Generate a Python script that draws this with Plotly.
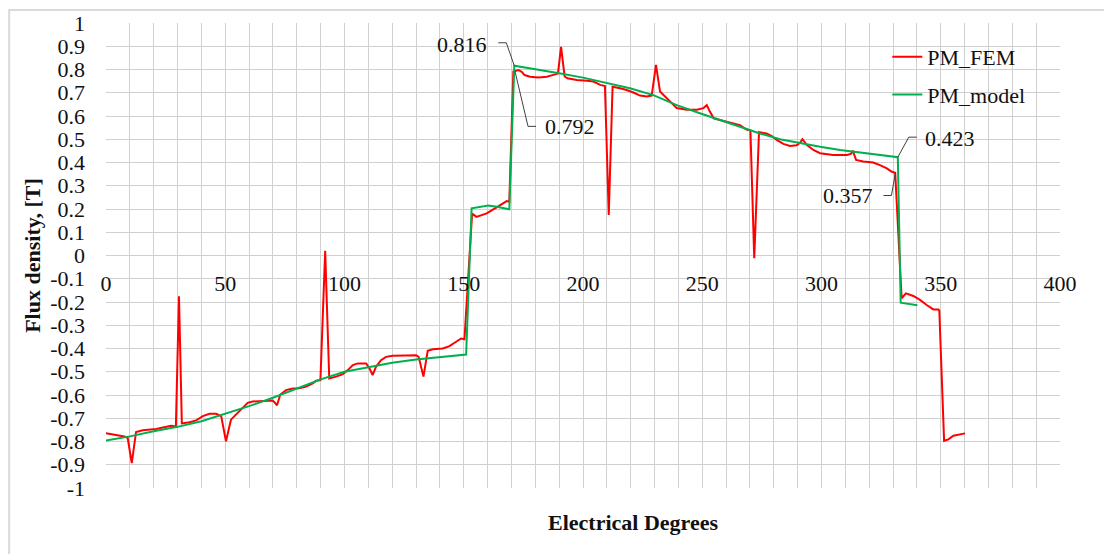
import plotly.graph_objects as go

# ---------------- data ----------------
fem_x = [0, 7.7, 9.1, 10.8, 12.6, 15.4, 21, 25.2, 27.3, 29.3, 30.6, 31.8, 35, 37.8, 40.6, 43.4, 46.2, 48.3,
         50.3, 52.4, 54.5, 57.3, 59.4, 61.5, 64.3, 67.1, 69.9, 70.6, 71.7, 73.1, 75.5, 78.3, 81.1, 83.9,
         86.7, 88.1, 89.9, 91.9, 93.6, 96.5, 99.3, 101.4, 103.5, 105.6, 109.1, 110.5, 111.8, 113.2, 115.3,
         117.4, 120.2, 125.8, 130.0, 131.1, 133.1, 134.9, 137.0, 141.2, 144.0, 146.8, 148.9, 150.3,
         153.5, 155.3, 159.6, 163.8, 166.6, 168.0, 169.1,
         170.8, 172.9, 174.3, 175.5, 177.8, 181.3, 184.8, 188.3, 189.5, 190.8, 192.3, 193.5, 197.4, 201.6,
         204.4, 207.2, 209.2, 210.8, 212.4, 215.5, 218.3, 221.1, 223.9, 226.7, 228.8, 230.6, 232.3, 234.4,
         236.5, 239.3, 243.5, 247.7, 250.5, 251.9, 253.2, 254.8, 257.4, 260.2, 263.0, 265.8, 268.6, 270.2,
         271.8, 273.8, 277.0, 279.1, 281.2, 284.0, 286.8, 289.6, 291.0, 292.0, 293.8, 296.6, 299.4, 304.9,
         310.6, 312.3, 313.1, 314.5, 317.5, 321.7, 324.5, 327.4, 329.5, 330.9,
         333.6, 335.4, 338.5, 341.3, 344.1, 346.9, 349.0, 349.4, 351.4, 353.2, 355.3, 358.1, 360.2]
fem_y = [-0.765, -0.778, -0.785, -0.893, -0.759, -0.752, -0.746, -0.737, -0.732, -0.735, -0.175, -0.722,
         -0.717, -0.709, -0.691, -0.681, -0.681, -0.691, -0.799, -0.706, -0.684, -0.655, -0.634, -0.628,
         -0.627, -0.627, -0.624, -0.631, -0.644, -0.598, -0.579, -0.572, -0.571, -0.564, -0.550, -0.539,
         -0.536, 0.020, -0.529, -0.521, -0.510, -0.493, -0.471, -0.464, -0.464, -0.486, -0.514, -0.479,
         -0.450, -0.436, -0.431, -0.430, -0.429, -0.436, -0.521, -0.410, -0.403, -0.400, -0.390, -0.371,
         -0.357, -0.360,
         0.180, 0.166, 0.181, 0.207, 0.226, 0.234, 0.231,
         0.791, 0.798, 0.790, 0.776, 0.769, 0.766, 0.769, 0.779, 0.783, 0.897, 0.770, 0.762, 0.755, 0.752,
         0.748, 0.734, 0.729, 0.174, 0.726, 0.719, 0.712, 0.701, 0.688, 0.684, 0.688, 0.820, 0.705, 0.684,
         0.663, 0.634, 0.627, 0.627, 0.634, 0.647, 0.619, 0.590, 0.583, 0.576, 0.571, 0.561, 0.542, 0.538,
         -0.012, 0.530, 0.525, 0.514, 0.497, 0.480, 0.471, 0.474, 0.485, 0.500, 0.476, 0.454, 0.440, 0.432,
         0.432, 0.437, 0.451, 0.411, 0.404, 0.400, 0.389, 0.375, 0.360, 0.356,
         -0.184, -0.163, -0.174, -0.191, -0.213, -0.232, -0.232, -0.237, -0.797, -0.791, -0.775, -0.769, -0.765]

model_x = [0, 10, 20, 30, 40, 50, 60, 70, 80, 90, 100, 110, 120, 130, 140, 151,
           153.3, 156.8, 160.3, 163.8, 166.6, 169.1,
           171.2, 180, 190, 200, 210, 219.7, 229.5, 239.3, 249, 257.3, 265.8, 274.2, 282.6, 291, 299.4,
           307.8, 316.4, 324.7, 332, 333.2, 340.2]
model_y = [-0.796, -0.778, -0.756, -0.737, -0.713, -0.681, -0.648, -0.612, -0.571, -0.533, -0.500, -0.481,
           -0.461, -0.447, -0.436, -0.426,
           0.203, 0.210, 0.215, 0.210, 0.203, 0.199,
           0.816, 0.802, 0.784, 0.765, 0.740, 0.719, 0.690, 0.647, 0.612, 0.583, 0.554, 0.525, 0.500, 0.483,
           0.468, 0.454, 0.442, 0.432, 0.423, -0.203, -0.214]

series_names = ["PM_FEM", "PM_model"]

# data labels (value, x position)
label_values = [0.816, 0.792, 0.423, 0.357]
label_x = [171.2, 171.5, 332.0, 331.0]

x_tick_vals = [0, 50, 100, 150, 200, 250, 300, 350, 400]
y_tick_vals = [1, 0.9, 0.8, 0.7, 0.6, 0.5, 0.4, 0.3, 0.2, 0.1, 0, -0.1, -0.2, -0.3, -0.4, -0.5,
               -0.6, -0.7, -0.8, -0.9, -1]
y_tick_text = ["1", "0.9", "0.8", "0.7", "0.6", "0.5", "0.4", "0.3", "0.2", "0.1", "0", "-0.1", "-0.2",
               "-0.3", "-0.4", "-0.5", "-0.6", "-0.7", "-0.8", "-0.9", "-1"]

# ---------------- styling ----------------
FONT = "Liberation Serif, Times New Roman, serif"
TXT = "#111111"
GRID = "#d0d0d0"
RED = "#ff0000"
GREEN = "#00b050"

fig = go.Figure()
fig.add_trace(go.Scatter(x=fem_x, y=fem_y, mode="lines", name=series_names[0], legendgroup="a",
                         line=dict(color=RED, width=2)))
fig.add_trace(go.Scatter(x=model_x, y=model_y, mode="lines", name=series_names[1], legendgroup="b",
                         line=dict(color=GREEN, width=2)))

# label text offsets (pixels) and leader line paths (pixels, relative to the labelled point)
label_cfg = [
    dict(xanchor="right", xshift=-25, yshift=21, path="M 0 0 L -8 23 L -16 23"),
    dict(xanchor="left", xshift=28, yshift=-55, path="M 0 0 L 13 -55 L 21 -55"),
    dict(xanchor="left", xshift=25, yshift=19, path="M 0 0 L 11 20 L 19 20"),
    dict(xanchor="right", xshift=-20, yshift=-23, path="M 0 0 L -4 -23 L -12 -23"),
]
annotations = []
shapes = []
for v, xv, cfg in zip(label_values, label_x, label_cfg):
    annotations.append(dict(x=xv, y=v, xref="x", yref="y", text=f"{v:.3f}", showarrow=False,
                            xanchor=cfg["xanchor"], yanchor="middle", xshift=cfg["xshift"],
                            yshift=cfg["yshift"], font=dict(family=FONT, size=22, color=TXT)))
    shapes.append(dict(type="path", xref="x", yref="y", xsizemode="pixel", ysizemode="pixel",
                       xanchor=xv, yanchor=v, path=cfg["path"],
                       line=dict(color="#404040", width=1)))

annotations.append(dict(x=0.5524, y=-0.075, xref="paper", yref="paper", text="<b>Electrical Degrees</b>",
                        showarrow=False, xanchor="center", yanchor="middle",
                        font=dict(family=FONT, size=22, color=TXT)))

# outer chart border
shapes.append(dict(type="rect", xref="paper", yref="paper", x0=-0.1015, y0=-0.2, x1=1.08, y1=1.028,
                   line=dict(color="#d9d9d9", width=2), layer="below"))

# the page body has an 8px default margin; figure sized to fit the remaining window
fig.update_layout(
    width=1104, height=546,
    margin=dict(l=98, r=52, t=15, b=66, autoexpand=False),
    paper_bgcolor="white", plot_bgcolor="white",
    font=dict(family=FONT, size=22, color=TXT),
    showlegend=True,
    legend=dict(x=0.819, y=0.972, xanchor="left", yanchor="top", bgcolor="rgba(0,0,0,0)",
                font=dict(family=FONT, size=22, color=TXT), tracegroupgap=6),
    annotations=annotations,
    shapes=shapes,
    xaxis=dict(range=[0, 400], tickvals=x_tick_vals, showgrid=True, gridcolor=GRID, gridwidth=1,
               minor=dict(dtick=10, showgrid=True, gridcolor=GRID, gridwidth=1),
               anchor="free", position=0.5, showline=False, zeroline=False, ticks="",
               ticklabelstandoff=12, automargin=False,
               tickfont=dict(family=FONT, size=22, color=TXT)),
    yaxis=dict(range=[-1, 1], tickvals=y_tick_vals, ticktext=y_tick_text, showgrid=True,
               gridcolor=GRID, gridwidth=1, zeroline=False, showline=False, ticks="",
               ticklabelstandoff=20, automargin=False,
               title=dict(text="<b>Flux density, [T]</b>", standoff=3,
                          font=dict(family=FONT, size=22, color=TXT)),
               tickfont=dict(family=FONT, size=22, color=TXT)),
)

fig.write_html("out.html")
